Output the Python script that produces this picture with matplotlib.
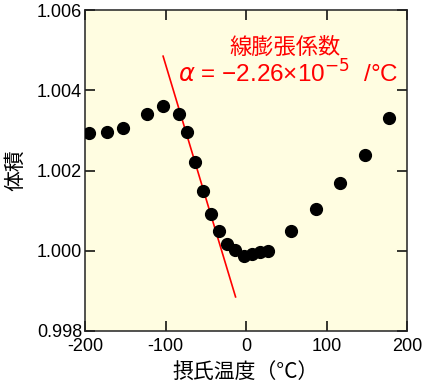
import matplotlib
matplotlib.use("Agg")
import matplotlib.pyplot as plt

temps = [-195, -173, -153, -123, -103, -83, -73, -63, -53, -43.5, -33.5, -23.5,
         -13.5, -3, 7, 17, 27, 56, 86.5, 117, 147.5, 177]
volume = [1.00294, 1.00297, 1.00307, 1.00340, 1.00362, 1.00341, 1.00296, 1.00221,
          1.00148, 1.00091, 1.00050, 1.00017, 1.00003, 0.99987, 0.99991, 0.99997,
          1.00000, 1.00050, 1.00104, 1.00168, 1.00238, 1.00332]
fit_x = [-103, -13]
fit_y = [1.00485, 0.99885]
xticks = [-200, -100, 0, 100, 200]
xtick_labels = ["-200", "-100", "0", "100", "200"]
yticks = [0.998, 1.000, 1.002, 1.004, 1.006]
ytick_labels = ["0.998", "1.000", "1.002", "1.004", "1.006"]

plt.rcParams['font.family'] = ['Liberation Sans', 'Noto Sans CJK JP', 'DejaVu Sans']
cjk = ['Noto Sans CJK JP', 'DejaVu Sans']

fig = plt.figure(figsize=(4.24, 3.86), dpi=100)
ax = fig.add_axes([0.2005, 0.1425, 0.7595, 0.8315])
ax.set_facecolor('#fffde1')

ax.plot(fit_x, fit_y, color='#ff0000', lw=1.2, zorder=2)
ax.plot(temps, volume, 'o', color='black', ms=8.5, zorder=3)

ax.set_xlim(-200, 200)
ax.set_ylim(0.998, 1.006)
ax.set_xticks(xticks)
ax.set_xticklabels(xtick_labels)
ax.set_yticks(yticks)
ax.set_yticklabels(ytick_labels)
ax.tick_params(direction='in', length=7, width=1.1, top=True, right=True,
               labelsize=13, pad=2, colors='black')
ax.tick_params(axis='x', pad=5)
for s in ax.spines.values():
    s.set_linewidth(1.1)
    s.set_color('#222222')

ax.set_xlabel('摂氏温度（°C）', fontsize=15, family=cjk, labelpad=4)
ax.set_ylabel('体積', fontsize=15, family=cjk, labelpad=8)

ax.text(0.62, 0.885, '線膨張係数', transform=ax.transAxes, color='#ff0000',
        fontsize=16, family=cjk, ha='center', va='center')
ax.text(0.288, 0.80, r'$\alpha$ = −2.26×10$^{-5}$  /°C', transform=ax.transAxes,
        color='#ff0000', fontsize=17.5, ha='left', va='center',
        family=['Liberation Sans', 'DejaVu Sans'])

fig.savefig('out.png', dpi=100)
